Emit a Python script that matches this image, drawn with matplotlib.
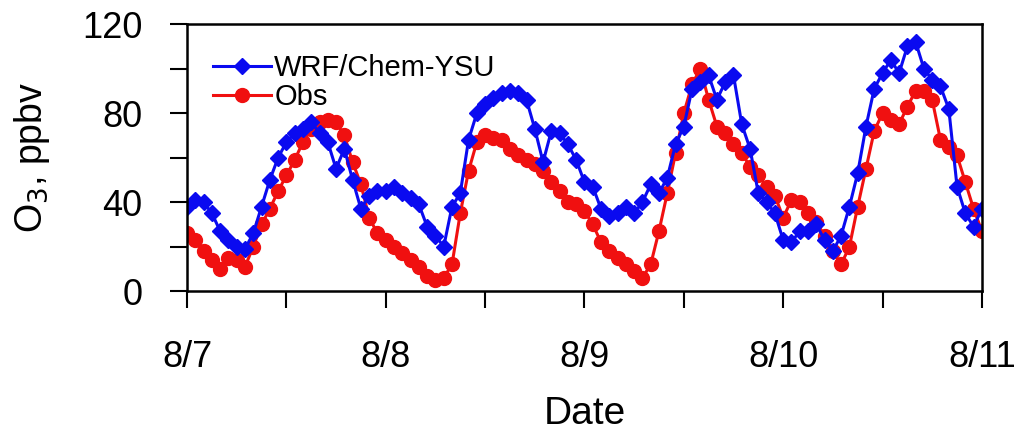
import numpy as np
import matplotlib
matplotlib.use('Agg')
import matplotlib.pyplot as plt
from matplotlib.ticker import MultipleLocator

plt.rcParams['font.family'] = ['Liberation Sans', 'DejaVu Sans']

# hourly values from 8/7 00:00 to 8/11 00:00
hours = np.arange(97)

wrf_ysu = [38, 41, 40, 35, 27, 23, 20, 19, 26, 38, 50, 60, 67, 71, 73, 76,
           71, 67, 55, 64, 50, 37, 43, 45, 45, 47, 44, 42, 39, 29, 25, 20,
           38, 44, 68, 80, 84, 87, 89, 90, 89, 86, 73, 58, 72, 71, 66, 59, 49,
           47, 37, 34, 35, 38, 35, 40, 48, 44, 51, 66, 74, 91, 94, 97, 86,
           94, 97, 75, 64, 44, 40, 35, 23, 22, 27, 27, 30, 23, 18, 25, 38,
           53, 74, 91, 98, 104, 98, 110, 112, 100, 95, 92, 82, 47, 35, 29, 37]

obs = [26, 23, 18, 14, 10, 15, 14, 11, 20, 30, 37, 45, 52, 59, 67, 73,
       76, 77, 76, 70, 58, 48, 33, 26, 23, 20, 17, 14, 11, 7, 5, 6,
       12, 35, 54, 67, 70, 69, 68, 64, 61, 59, 57, 54, 49, 45, 40, 39,
       36, 30, 22, 18, 15, 12, 9, 6,
       12, 27, 44, 62, 80, 93, 100, 86, 74,
       71, 66, 62, 56, 52, 47, 43, 33, 41, 40, 35, 31, 25, 18,
       12, 20, 38, 55, 72, 80, 77, 75, 83, 90, 90, 86, 68, 65, 61, 49, 37, 27]

day_ticks = [0, 24, 48, 72, 96]
day_labels = ['8/7', '8/8', '8/9', '8/10', '8/11']

fig = plt.figure(figsize=(10.26, 4.32), dpi=100)
ax = fig.add_axes([0.1823, 0.326, 0.7747, 0.618])

# obs underneath, model on top
l_obs, = ax.plot(hours, obs, color='#f01010', lw=2.2, marker='o', ms=10,
                 label='Obs')
l_wrf, = ax.plot(hours, wrf_ysu, color='#0a0af0', lw=2.2, marker='D', ms=8.5,
                 label='WRF/Chem-YSU')

ax.set_xlim(0, 96)
ax.set_ylim(0, 120)
ax.set_xticks(day_ticks)
ax.set_xticklabels(day_labels)
ax.xaxis.set_minor_locator(MultipleLocator(12))
ax.set_yticks([0, 40, 80, 120])
ax.yaxis.set_minor_locator(MultipleLocator(20))

ax.tick_params(which='both', direction='out', length=12, width=1.5,
               top=False, right=False)
ax.tick_params(axis='y', which='major', labelsize=26, pad=20)
ax.tick_params(axis='x', which='major', labelsize=26, pad=23)
for s in ax.spines.values():
    s.set_linewidth(1.8)

ax.set_xlabel('Date', fontsize=28, labelpad=15)
ax.set_ylabel('O$_3$, ppbv', fontsize=27, labelpad=22)

ax.legend(handles=[l_wrf, l_obs], loc='upper left', frameon=False,
          fontsize=21, handlelength=2.0, handletextpad=0.1,
          labelspacing=0.05, borderaxespad=0.3, bbox_to_anchor=(0.007, 0.965))

fig.savefig('out.png', dpi=100)
